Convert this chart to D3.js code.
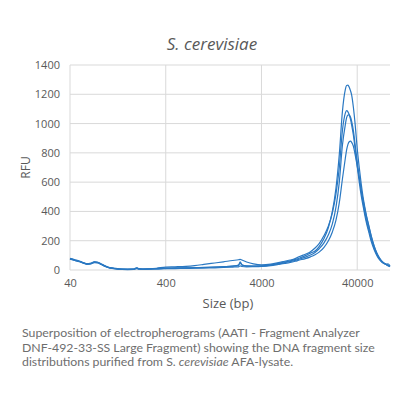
<!DOCTYPE html>
<html><head><meta charset="utf-8">
<script src="https://cdn.jsdelivr.net/npm/d3@7/dist/d3.min.js"></script>
<style>body{margin:0;background:#fff}svg{display:block}</style>
</head><body>
<script>
const xTicks = [40, 400, 4000, 40000];
const yTicks = [0, 200, 400, 600, 800, 1000, 1200, 1400];
const sizes = [40,45,50,55,60,66,72,78,85,95,105,120,140,160,185,200,210,230,270,320,400,500,650,800,1000,1300,1600,2000,2300,2400,2500,2800,3300,4000,5000,6000,7000,8000,9000,10000,11500,13000,14500,16000,18000,20000,22000,24000,26000,28000,30000,31000,32000,33000,34000,35000,36500,38000,40000,42000,44000,46000,48000,50000,53000,56000,60000,64000,68000,72000,76000,80000,84000,88000];
const traceA = [78,68,60,50,42,45,55,52,40,25,15,10,6,5,6,14,8,6,7,8,12,13,14,15,17,19,22,26,32,55,35,28,27,28,35,45,55,62,72,82,98,115,130,160,215,290,400,560,790,1080,1230,1260,1262,1248,1225,1195,1110,1000,830,700,590,500,430,370,300,235,165,115,82,60,46,38,30,27];
const traceB = [76,66,58,48,40,44,53,50,38,23,14,9,5,4,5,12,7,6,8,12,20,22,25,30,38,48,56,65,70,73,68,55,42,35,40,50,60,68,78,92,108,125,150,180,235,300,390,520,700,950,1070,1088,1080,1060,1030,990,920,830,710,600,510,440,375,320,255,195,140,100,72,55,45,38,42,25];
const traceC = [80,70,61,51,43,46,56,53,41,26,16,11,7,6,7,15,9,7,8,10,13,14,15,16,18,20,23,27,33,50,34,27,26,27,33,42,50,58,66,75,88,102,120,145,185,240,315,430,600,850,990,1040,1058,1060,1045,1015,950,860,740,635,540,460,395,338,272,212,150,108,78,58,46,40,28,34];
const traceD = [74,65,57,47,39,42,51,49,37,22,13,8,4,3,4,10,6,5,6,7,9,10,11,12,13,15,17,20,22,28,24,22,23,25,30,38,45,52,60,68,78,90,104,122,155,200,260,340,460,620,760,820,858,876,880,872,845,790,710,630,550,480,420,365,295,230,165,118,85,62,48,40,30,22];
const series = [traceA, traceB, traceC, traceD];

const W = 398, H = 398;
const m = {left: 70, right: 8, top: 65, bottom: 128};
const svg = d3.select("body").append("svg").attr("width", W).attr("height", H);
const x = d3.scaleLog().domain([40, 88000]).range([m.left, W - m.right]);
const y = d3.scaleLinear().domain([0, 1400]).range([H - m.bottom, m.top]);
const grey = "#595959";
const gridC = "#d9d9d9";

// grid
svg.append("g").selectAll("line").data(yTicks).join("line")
  .attr("x1", m.left).attr("x2", W - m.right)
  .attr("y1", d => y(d)).attr("y2", d => y(d))
  .attr("stroke", gridC).attr("stroke-width", 1);
svg.append("g").selectAll("line").data(xTicks).join("line")
  .attr("x1", d => x(d)).attr("x2", d => x(d))
  .attr("y1", y(1400)).attr("y2", y(0))
  .attr("stroke", gridC).attr("stroke-width", 1);

// axes labels
const yAxis = d3.axisLeft(y).tickValues(yTicks).tickSize(0).tickPadding(10).tickFormat(d3.format("d"));
const gy = svg.append("g").attr("transform", `translate(${m.left},0)`).call(yAxis);
gy.select(".domain").remove();
gy.selectAll("text").attr("fill", grey).style("font-family", "'Open Sans', sans-serif").style("font-size", "11px");

const xAxis = d3.axisBottom(x).tickValues(xTicks).tickSize(0).tickPadding(9).tickFormat(d3.format("d"));
const gx = svg.append("g").attr("transform", `translate(0,${y(0)})`).call(xAxis);
gx.select(".domain").remove();
gx.selectAll("text").attr("fill", grey).style("font-family", "'Open Sans', sans-serif").style("font-size", "11px");

// lines
const line = d3.line().x((d, i) => x(sizes[i])).y(d => y(d)).curve(d3.curveMonotoneX);
svg.append("g").selectAll("path").data(series).join("path")
  .attr("d", line).attr("fill", "none")
  .attr("stroke", "#2a78c2").attr("stroke-width", 1.2);

// titles
svg.append("text").attr("x", 212).attr("y", 50).attr("text-anchor", "middle")
  .attr("fill", grey).style("font-family", "'Open Sans', sans-serif").style("font-size", "17px").style("font-style", "italic")
  .text("S. cerevisiae");
svg.append("text").attr("transform", `translate(30,${y(700)}) rotate(-90)`).attr("text-anchor", "middle")
  .attr("fill", grey).style("font-family", "'Open Sans', sans-serif").style("font-size", "12px")
  .text("RFU");
svg.append("text").attr("x", 228).attr("y", 308).attr("text-anchor", "middle")
  .attr("fill", grey).style("font-family", "'Open Sans', sans-serif").style("font-size", "13px")
  .text("Size (bp)");

// caption
const cap = svg.append("g").attr("fill", "#6e6e6e").style("font-family", "Lato, sans-serif").style("font-size", "12.3px");
cap.append("text").attr("x", 22).attr("y", 337).text("Superposition of electropherograms (AATI - Fragment Analyzer");
cap.append("text").attr("x", 22).attr("y", 351.5).text("DNF-492-33-SS Large Fragment) showing the DNA fragment size");
const t3 = cap.append("text").attr("x", 22).attr("y", 366);
t3.append("tspan").text("distributions purified from S. ");
t3.append("tspan").style("font-style", "italic").text("cerevisiae");
t3.append("tspan").text(" AFA-lysate.");
</script>
</body></html>
